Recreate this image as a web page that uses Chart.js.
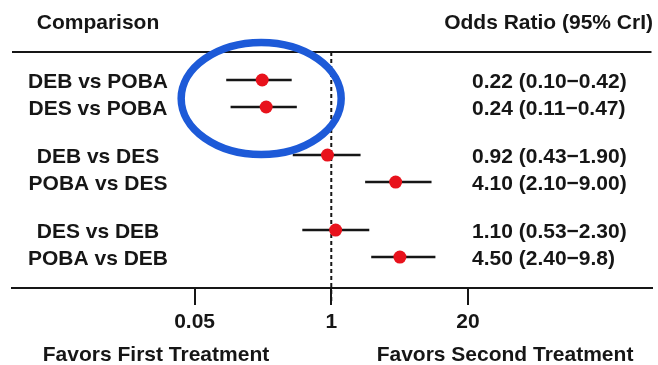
<!DOCTYPE html>
<html>
<head>
<meta charset="utf-8">
<script src="https://cdn.jsdelivr.net/npm/chart.js@4"></script>
<style>
  html, body { margin: 0; padding: 0; background: #ffffff; }
  canvas { display: block; }
</style>
</head>
<body>
<canvas id="forest" width="658" height="365"></canvas>
<script>
// Comparisons (top to bottom) and which block each belongs to
const comparisons = ['DEB vs POBA', 'DES vs POBA', 'DEB vs DES', 'POBA vs DES', 'DES vs DEB', 'POBA vs DEB'];
const groupOf = [0, 0, 1, 1, 2, 2];

// Odds ratios with 95% credible intervals
const oddsRatio = [0.22, 0.24, 0.92, 4.10, 1.10, 4.50];
const lowerCrI = [0.10, 0.11, 0.43, 2.10, 0.53, 2.40];
const upperCrI = [0.42, 0.47, 1.90, 9.00, 2.30, 9.8];
const crIText = [
  '0.22 (0.10\u22120.42)',
  '0.24 (0.11\u22120.47)',
  '0.92 (0.43\u22121.90)',
  '4.10 (2.10\u22129.00)',
  '1.10 (0.53\u22122.30)',
  '4.50 (2.40\u22129.8)'
];

// x axis ticks
const tickValues = [0.05, 1, 20];
const tickLabels = ['0.05', '1', '20'];

const FONT = '"Liberation Sans", Arial, Helvetica, sans-serif';
const INK = '#161616';

// row position: one unit per row, extra space between blocks
const rowPos = comparisons.map((c, i) => i + groupOf[i] * 0.78);

// whisker datasets, one line per comparison
const whiskers = comparisons.map((c, i) => ({
  type: 'line',
  label: c,
  data: [{ x: lowerCrI[i], y: rowPos[i] }, { x: upperCrI[i], y: rowPos[i] }],
  borderColor: '#161616',
  borderWidth: 2.5,
  pointRadius: 0,
  fill: false,
  order: 2
}));

// text, reference line and highlight drawn around the plot
const forestDecor = {
  id: 'forestDecor',
  beforeDatasetsDraw(chart) {
    const { ctx, chartArea, scales } = chart;
    const x1 = scales.x.getPixelForValue(1);
    ctx.save();
    // top rule
    ctx.strokeStyle = INK;
    ctx.lineWidth = 2;
    ctx.beginPath();
    ctx.moveTo(chartArea.left, chartArea.top);
    ctx.lineTo(chartArea.right, chartArea.top);
    ctx.stroke();
    // no-effect line
    ctx.setLineDash([4, 3]);
    ctx.beginPath();
    ctx.moveTo(x1, chartArea.top);
    ctx.lineTo(x1, chartArea.bottom + 14);
    ctx.stroke();
    ctx.restore();
  },
  afterDatasetsDraw(chart) {
    const { ctx, scales } = chart;
    ctx.save();
    // circle round the first block
    const cx = (scales.x.getPixelForValue(oddsRatio[0]) + scales.x.getPixelForValue(oddsRatio[1])) / 2 - 3;
    const cy = (scales.y.getPixelForValue(rowPos[0]) + scales.y.getPixelForValue(rowPos[1])) / 2 + 5;
    ctx.strokeStyle = '#1d5ad8';
    ctx.lineWidth = 7.5;
    ctx.beginPath();
    ctx.ellipse(cx, cy, 80, 56, 0, 0, Math.PI * 2);
    ctx.stroke();

    ctx.fillStyle = INK;
    ctx.font = 'bold 21px ' + FONT;
    ctx.textBaseline = 'middle';
    // headers
    ctx.textAlign = 'center';
    ctx.fillText('Comparison', 98, 23);
    ctx.textAlign = 'right';
    ctx.fillText('Odds Ratio (95% CrI)', 653, 23);
    // row labels and values
    comparisons.forEach((c, i) => {
      const y = scales.y.getPixelForValue(rowPos[i]) + 2;
      ctx.textAlign = 'center';
      ctx.fillText(c, 98, y);
      ctx.textAlign = 'left';
      ctx.fillText(crIText[i], 472, y);
    });
    // direction labels
    ctx.textAlign = 'center';
    ctx.fillText('Favors First Treatment', 156, 355);
    ctx.fillText('Favors Second Treatment', 505, 355);
    ctx.restore();
  }
};

new Chart(document.getElementById('forest'), {
  type: 'scatter',
  data: {
    datasets: [
      {
        label: 'Odds ratio',
        data: comparisons.map((c, i) => ({ x: oddsRatio[i], y: rowPos[i] })),
        pointRadius: 6.5,
        pointBackgroundColor: '#e8121c',
        pointBorderWidth: 0,
        order: 1
      },
      ...whiskers
    ]
  },
  options: {
    responsive: false,
    animation: false,
    layout: { padding: { top: 52, left: 12, right: 5, bottom: 0 } },
    plugins: {
      legend: { display: false },
      tooltip: { enabled: false }
    },
    scales: {
      x: {
        type: 'logarithmic',
        bounds: 'data',
        min: 0.000914,
        max: 1117,
        afterBuildTicks: (scale) => {
          scale.ticks = tickValues.map(v => ({ value: v }));
        },
        afterFit: (scale) => { scale.height = 77; },
        border: { display: true, color: INK, width: 2 },
        grid: { drawOnChartArea: false, color: INK, lineWidth: 2, tickLength: 17 },
        ticks: {
          padding: 5,
          maxRotation: 0,
          autoSkip: false,
          color: INK,
          font: { family: FONT, size: 21, weight: 'bold' },
          callback: (v) => tickLabels[tickValues.indexOf(v)]
        }
      },
      y: {
        type: 'linear',
        display: false,
        reverse: true,
        min: -1.037,
        max: 7.704
      }
    }
  },
  plugins: [forestDecor]
});
</script>
</body>
</html>
